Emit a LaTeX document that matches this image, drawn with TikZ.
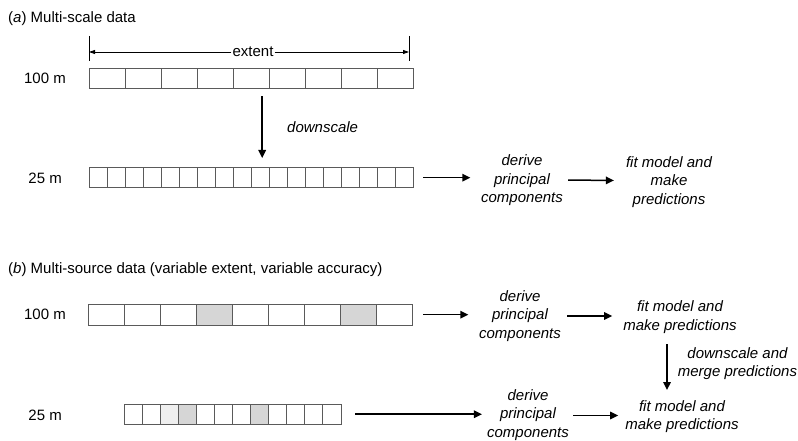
\documentclass[tikz,border=0pt]{standalone}
\usepackage{fontspec}
\setmainfont{Liberation Sans}
\usetikzlibrary{arrows.meta}
\definecolor{cellgray}{HTML}{D6D6D6}
\definecolor{celllight}{HTML}{EFEFEF}
\definecolor{cellline}{HTML}{5A5A5A}
\begin{document}
\begin{tikzpicture}[x=1pt,y=-1pt,
  txt/.style={inner sep=0pt, font=\fontsize{15}{18.5}\selectfont},
  itxt/.style={inner sep=0pt, align=center, font=\fontsize{15}{18.5}\selectfont\itshape},
  rowbox/.style={inner sep=0pt, anchor=north west},
  cell/.style={draw=cellline, line width=0.9pt},
  arr/.style={line width=1.5pt, -{Triangle[length=8pt,width=7.5pt]}},
  ext/.style={line width=0.8pt, -{Triangle[length=6pt,width=4pt]}},
  tick/.style={line width=0.8pt}]
\useasboundingbox (0,0) rectangle (798,441);

% ---------------- (a) ----------------
\node[txt, anchor=base west] (titleA) at (8,22.5) {(\textit{a}) Multi-scale data};

% extent
\coordinate (extL) at (89,52);
\coordinate (extR) at (409,52);
\draw[tick] (89,36) -- (89,61);
\draw[tick] (409,36) -- (409,61);
\node[txt, fill=white, inner xsep=1pt] (extent) at (253,52) {extent};
\draw[ext] (extent.west) -- (extL);
\draw[ext] (extent.east) -- (extR);

% 100 m row (a)
\node[rowbox, minimum width=324pt, minimum height=20pt] (a100) at (89,68) {};
\foreach \i in {0,...,8} \draw[cell] (89+36*\i,68) rectangle ++(36,20);
\node[txt, anchor=east] (la100) at (66,78) {100 m};

% downscale
\draw[arr] ([xshift=11pt,yshift=-8pt]a100.south) -- ([xshift=11pt,yshift=9pt]a100.south |- 0,167);
\node[itxt, anchor=west] (downA) at (287,127) {downscale};

% 25 m row (a)
\node[rowbox, minimum width=324pt, minimum height=20pt] (a25) at (89,167.5) {};
\foreach \i in {0,...,17} \draw[cell] (89+18*\i,167.5) rectangle ++(18,20);
\node[txt, anchor=east] (la25) at (62,178) {25 m};

\node[itxt] (derA) at (522,180.5) {derive\\principal\\components};
\node[itxt] (fitA) at (669,182) {fit model and\\make\\predictions};
\draw[arr] ([xshift=10pt]a25.east) -- ([xshift=57pt]a25.east);
\draw[arr] ([xshift=5pt,yshift=0.5pt]derA.east) -- ([xshift=-12pt]derA.east -| fitA.west);

% ---------------- (b) ----------------
\node[txt, anchor=base west] (titleB) at (8,273) {(\textit{b}) Multi-source data (variable extent, variable accuracy)};

% 100 m row (b)
\node[rowbox, minimum width=324pt, minimum height=21pt] (b100) at (88,304) {};
\foreach \i in {3,7} \fill[cellgray] (88+36*\i,304) rectangle ++(36,21);
\foreach \i in {0,...,8} \draw[cell] (88+36*\i,304) rectangle ++(36,21);
\node[txt, anchor=east] (lb100) at (66,314.5) {100 m};

\node[itxt] (derB1) at (520,316) {derive\\principal\\components};
\node[itxt] (fitB1) at (680,317) {fit model and\\make predictions};
\draw[arr] ([xshift=11pt]b100.east) -- ([xshift=56pt]b100.east);
\draw[arr] ([xshift=6pt]derB1.east) -- ([xshift=-11pt]derB1.east -| fitB1.west);

% downscale and merge
\node[itxt] (merge) at (737.5,363.5) {downscale and\\merge predictions};
\node[itxt] (fitB2) at (682,416.5) {fit model and\\make predictions};
\draw[arr] ([xshift=-13pt,yshift=-11pt]fitB1.south) -- ([xshift=-13pt,yshift=10pt]fitB1.south |- fitB2.north);

% 25 m row (b)
\node[rowbox, minimum width=217pt, minimum height=20pt] (b25) at (124,404) {};
\fill[celllight] (124+18.083*2,404) rectangle ++(18.083,20);
\foreach \i in {3,7} \fill[cellgray] (124+18.083*\i,404) rectangle ++(18.083,20);
\foreach \i in {0,...,11} \draw[cell] (124+18.083*\i,404) rectangle ++(18.083,20);
\node[txt, anchor=east] (lb25) at (62,415) {25 m};

\node[itxt] (derB2) at (528,415) {derive\\principal\\components};
\draw[arr] ([xshift=14pt]b25.east) -- ([xshift=-5pt]b25.east -| derB2.west);
\draw[arr] ([xshift=4pt,yshift=-0.5pt]derB2.east) -- ([xshift=-7pt,yshift=-0.5pt]derB2.east -| fitB2.west);
\end{tikzpicture}
\end{document}
